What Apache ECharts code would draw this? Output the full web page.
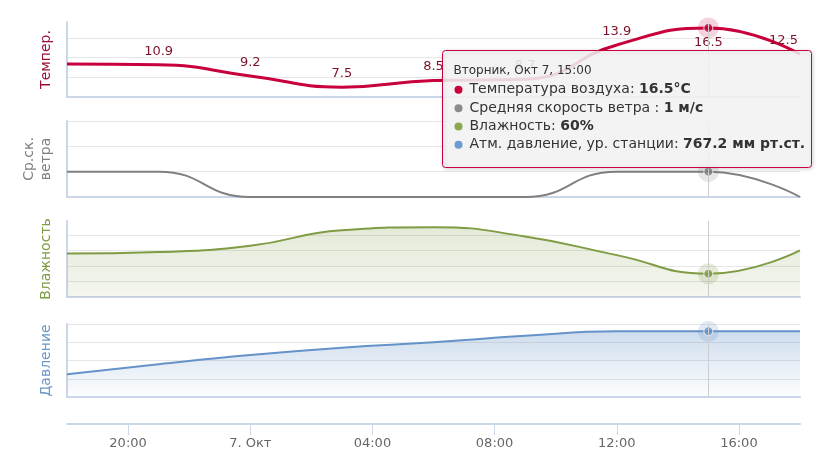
<!DOCTYPE html>
<html><head><meta charset="utf-8">
<script src="https://cdn.jsdelivr.net/npm/echarts@6/dist/echarts.min.js"></script>
<style>html,body{margin:0;padding:0;background:#fff}#c{width:820px;height:461px}</style>
</head><body><div id="c"></div>
<script>
// ---- data ----
const times = ['2025-10-06T18:00','2025-10-06T21:00','2025-10-07T00:00','2025-10-07T03:00','2025-10-07T06:00','2025-10-07T09:00','2025-10-07T12:00','2025-10-07T15:00','2025-10-07T18:00'];
const temperature = [11.0, 10.9, 9.2, 7.5, 8.5, 8.7, 13.9, 16.5, 12.5];
const windSpeed = [1, 1, 0, 0, 0, 0, 1, 1, 0];
const humidity = [73, 74, 78, 88, 90, 84, 72, 60, 75];
const pressure = [762.5, 763.6, 764.6, 765.4, 766.0, 766.7, 767.2, 767.2, 767.2];
const tickTimes = ['2025-10-06T20:00','2025-10-07T00:00','2025-10-07T04:00','2025-10-07T08:00','2025-10-07T12:00','2025-10-07T16:00'];
const tickLabels = ['20:00','7. Окт','04:00','08:00','12:00','16:00'];
const seriesNames = ['Температура воздуха', 'Средняя скорость ветра ', 'Влажность', 'Атм. давление, ур. станции'];
const units = ['°C', ' м/с', '%', ' мм рт.ст.'];
const axisTitles = ['Темпер.', 'Ср.ск.\nветра', 'Влажность', 'Давление'];
const xStart = '2025-10-06T18:00', xEnd = '2025-10-07T18:00';
const hoverIndex = 7;

const ts = s => new Date(s).getTime();
const T = times.map(ts);
const tickTs = tickTimes.map(ts);
const FONT = 'DejaVu Sans';

const colors = ['#c8003c', '#808080', '#7f9b44', '#6592c8'];
const titleColors = ['#9a0f34', '#808080', '#7f9b44', '#6a96c8'];
const bulletColors = ['#c8003c', '#8a8a8a', '#8aa84e', '#6b9bd1'];
const haloColors = ['rgba(200,0,60,0.22)', 'rgba(128,128,128,0.25)', 'rgba(127,155,68,0.25)', 'rgba(101,146,200,0.25)'];
const values = [temperature, windSpeed, humidity, pressure];

const grids = [
  {left: 67, right: 20, top: 22, height: 75},
  {left: 67, right: 20, top: 121, height: 76},
  {left: 67, right: 20, top: 221, height: 76},
  {left: 67, right: 20, top: 324, height: 73}
];
const yRanges = [
  {min: 6, max: 17.4, interval: 3, showMax: false},
  {min: 0, max: 3, interval: 1, showMax: true},
  {min: 45, max: 94, interval: 10, showMax: false},
  {min: 760, max: 768, interval: 2, showMax: true}
];

const xAxes = grids.map((g, i) => ({
  type: 'value', gridIndex: i, min: ts(xStart), max: ts(xEnd),
  axisLine: {show: true, lineStyle: {color: '#ccd6eb', width: 2}},
  axisTick: {show: false}, axisLabel: {show: false}, splitLine: {show: false}
}));
xAxes.push({
  type: 'value', gridIndex: 3, position: 'bottom', offset: 27, min: ts(xStart), max: ts(xEnd),
  axisLine: {show: true, onZero: false, lineStyle: {color: '#ccd6eb', width: 2}},
  axisTick: {show: true, customValues: tickTs, length: 11, lineStyle: {color: '#ccd6eb', width: 1}},
  axisLabel: {show: true, customValues: tickTs, color: '#666', fontFamily: FONT, fontSize: 13, margin: 13,
    formatter: v => { const k = tickTs.indexOf(v); return k >= 0 ? tickLabels[k] : ''; }},
  splitLine: {show: false}
});

const yAxes = yRanges.map((r, i) => ({
  type: 'value', gridIndex: i, min: r.min, max: r.max, interval: r.interval,
  name: axisTitles[i], nameLocation: 'middle', nameRotate: 90, nameGap: 12,
  nameTextStyle: {color: titleColors[i], fontFamily: FONT, fontSize: 14, lineHeight: 17},
  axisLine: {show: true, onZero: false, lineStyle: {color: '#ccd6eb', width: 2}},
  axisTick: {show: false}, axisLabel: {show: false},
  splitLine: {show: true, showMinLine: false, showMaxLine: r.showMax, lineStyle: {color: '#e6e6e6', width: 1}}
}));

const series = [];
const last = T.length - 1;
series.push({
  type: 'line', name: seriesNames[0], xAxisIndex: 0, yAxisIndex: 0, smooth: 0.5,
  symbol: 'circle', symbolSize: 2, showSymbol: true, itemStyle: {color: 'rgba(0,0,0,0)'},
  lineStyle: {color: colors[0], width: 3},
  label: {show: true, position: 'top', distance: 6, color: '#7d1128', fontFamily: FONT, fontSize: 13,
    formatter: p => p.value[1].toFixed(1)},
  emphasis: {disabled: true},
  data: temperature.map((v, i) => {
    const item = {value: [T[i], v]};
    if (i === 0) item.label = {show: false};
    else if (v > yRanges[0].max - 1.5) item.label = {position: 'bottom', distance: 7};
    else if (i === last) item.label = {align: 'right', offset: [-2, 0]};
    return item;
  })
});
series.push({
  type: 'line', name: seriesNames[1], xAxisIndex: 1, yAxisIndex: 1, smooth: 0.5, symbol: 'none',
  lineStyle: {color: colors[1], width: 2}, emphasis: {disabled: true},
  data: windSpeed.map((v, i) => [T[i], v])
});
series.push({
  type: 'line', name: seriesNames[2], xAxisIndex: 2, yAxisIndex: 2, smooth: 0.5, symbol: 'none',
  lineStyle: {color: colors[2], width: 2}, emphasis: {disabled: true},
  areaStyle: {origin: 'start', color: new echarts.graphic.LinearGradient(0, 0, 0, 1, [
    {offset: 0, color: 'rgba(127,155,68,0.30)'}, {offset: 1, color: 'rgba(127,155,68,0.12)'}])},
  data: humidity.map((v, i) => [T[i], v])
});
series.push({
  type: 'line', name: seriesNames[3], xAxisIndex: 3, yAxisIndex: 3, smooth: 0.5, symbol: 'none',
  lineStyle: {color: colors[3], width: 2}, emphasis: {disabled: true},
  areaStyle: {origin: 'start', color: new echarts.graphic.LinearGradient(0, 0, 0, 1, [
    {offset: 0, color: 'rgba(101,146,200,0.45)'}, {offset: 1, color: 'rgba(101,146,200,0.02)'}])},
  data: pressure.map((v, i) => [T[i], v])
});
for (let i = 0; i < 4; i++) {
  const pt = [T[hoverIndex], values[i][hoverIndex]];
  series.push({
    type: 'scatter', xAxisIndex: i, yAxisIndex: i, symbolSize: 21, silent: true, clip: false,
    itemStyle: {color: haloColors[i]}, emphasis: {disabled: true}, z: 3,
    markLine: {silent: true, symbol: 'none', label: {show: false}, animation: false,
      lineStyle: {color: '#cccccc', width: 1, type: 'solid'}, data: [{xAxis: T[hoverIndex]}]},
    data: [pt]
  });
  series.push({
    type: 'scatter', xAxisIndex: i, yAxisIndex: i, symbolSize: 9, silent: true, clip: false,
    itemStyle: {color: colors[i], borderColor: '#fff', borderWidth: 1}, emphasis: {disabled: true}, z: 4,
    data: [pt]
  });
}

const days = ['Воскресенье','Понедельник','Вторник','Среда','Четверг','Пятница','Суббота'];
const months = ['Янв','Фев','Мар','Апр','Май','Июн','Июл','Авг','Сен','Окт','Ноя','Дек'];
const hd = new Date(T[hoverIndex]);
const pad = n => (n < 10 ? '0' : '') + n;
const header = days[hd.getDay()] + ', ' + months[hd.getMonth()] + ' ' + hd.getDate() + ', ' + pad(hd.getHours()) + ':' + pad(hd.getMinutes());
const fmtVal = [v => v.toFixed(1), v => String(v), v => String(v), v => v.toFixed(1)];
const ZT = 100;
const tipChildren = [
  {type: 'rect', z: ZT, shape: {x: 0, y: 0, width: 369, height: 117, r: 3},
   style: {fill: 'rgba(247,247,247,0.86)', stroke: colors[0], lineWidth: 1,
     shadowBlur: 4, shadowOffsetX: 1, shadowOffsetY: 1, shadowColor: 'rgba(0,0,0,0.18)'}},
  {type: 'text', z: ZT + 1, x: 11, y: 20, style: {text: header, fill: '#333', font: '12px "DejaVu Sans"', verticalAlign: 'middle'}}
];
for (let i = 0; i < 4; i++) {
  const cy = 39.3 + i * 18.35;
  tipChildren.push({type: 'circle', z: ZT + 1, shape: {cx: 16, cy: cy, r: 4}, style: {fill: bulletColors[i]}});
  tipChildren.push({type: 'text', z: ZT + 1, x: 27, y: cy, style: {
    text: '{n|' + seriesNames[i] + ': }{b|' + fmtVal[i](values[i][hoverIndex]) + units[i] + '}',
    verticalAlign: 'middle',
    rich: {n: {fontFamily: FONT, fontSize: 14, fill: '#333', color: '#333'},
           b: {fontFamily: FONT, fontSize: 14, fontWeight: 'bold', fill: '#333', color: '#333'}}
  }});
}

const chart = echarts.init(document.getElementById('c'), null, {renderer: 'canvas'});
chart.setOption({
  animation: false,
  backgroundColor: '#fff',
  textStyle: {fontFamily: FONT},
  grid: grids,
  xAxis: xAxes,
  yAxis: yAxes,
  series: series,
  graphic: [{type: 'group', left: 442, top: 50, z: ZT, children: tipChildren}]
});
</script></body></html>
